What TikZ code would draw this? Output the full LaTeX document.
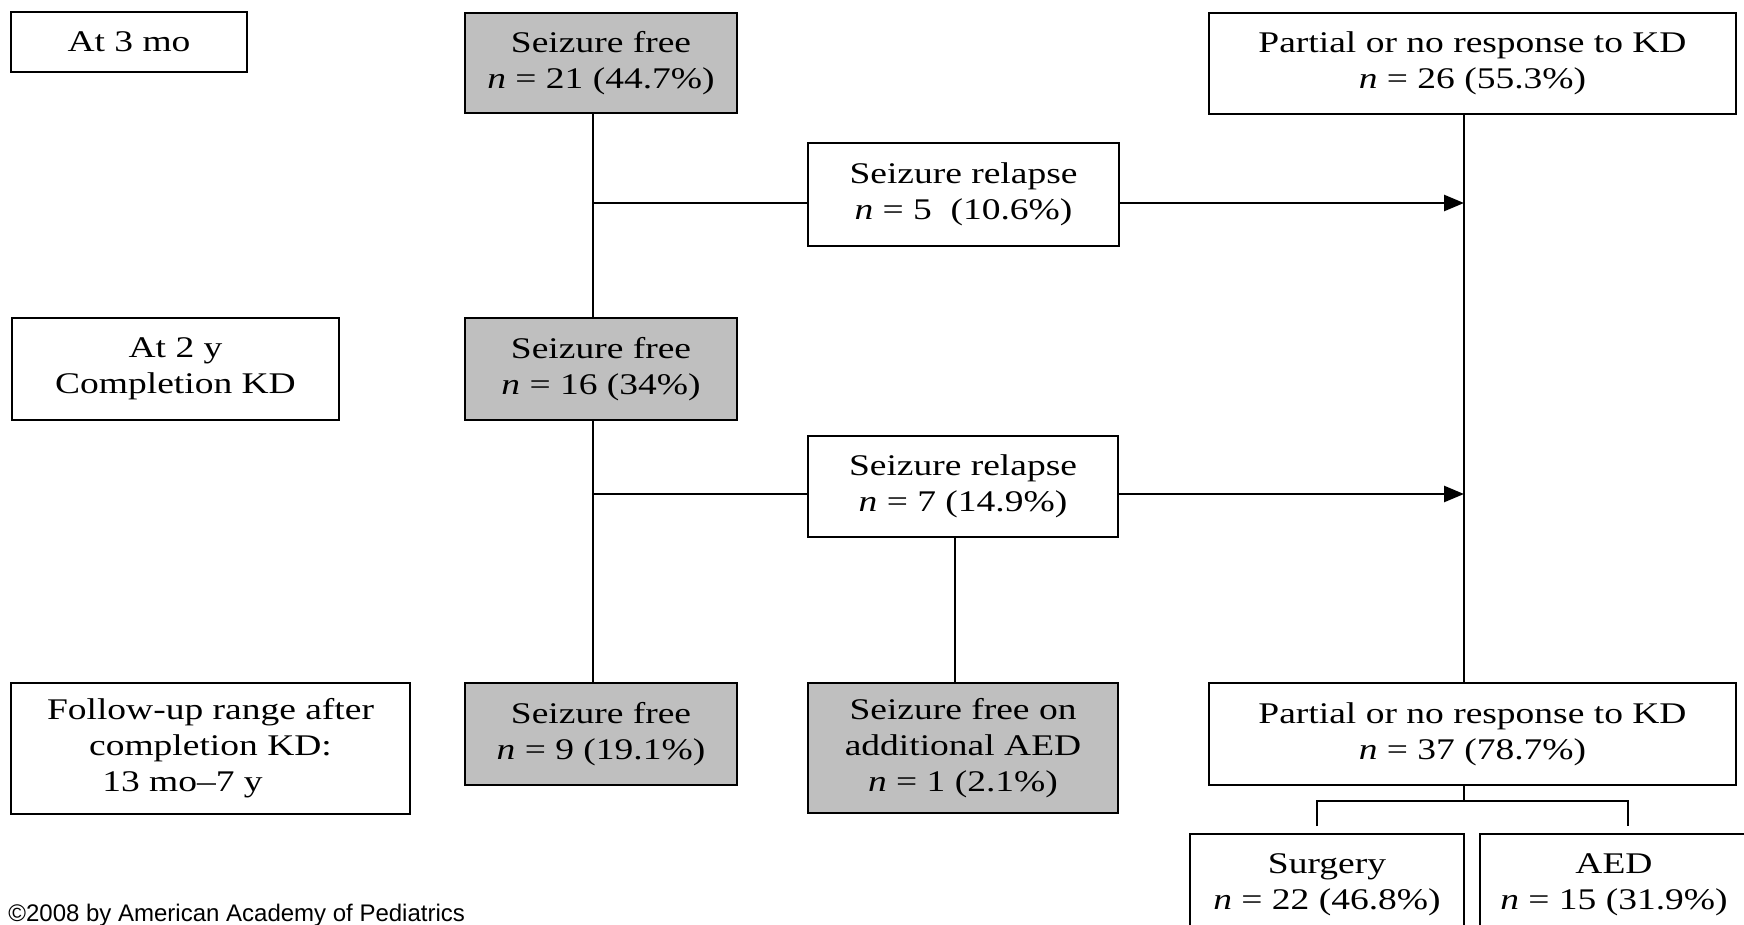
\documentclass[tikz,border=0pt]{standalone}
\usepackage{fontspec}
\setmainfont{Liberation Serif}[FakeStretch=1.25]
\newfontfamily\arialfont{Liberation Sans}
\usetikzlibrary{arrows.meta}
\newcommand\flowbox[7]{%
  \node[#6, minimum width={(#4-#2)*0.5pt}, minimum height={(#5-#3)*0.5pt}]
    (#1) at ({(#2+#4)/2},{(#3+#5)/2}) {#7};}
\begin{document}
\begin{tikzpicture}[x=0.5pt,y=-0.5pt,
  box/.style={draw=black, line width=1.4pt, rectangle, inner sep=0pt, outer sep=0pt,
    align=center, font=\fontsize{15}{18}\selectfont},
  shaded/.style={box, fill=black!25},
  link/.style={line width=1.3pt},
  arr/.style={link, -{Triangle[length=10pt,width=8pt]}}]
\useasboundingbox (0,0) rectangle (1744,925);
% row labels
\flowbox{lab1}{11}{12}{247}{72}{box}{At 3 mo}
\flowbox{lab2}{12}{318}{339}{420}{box}{At 2 y\\Completion KD}
\flowbox{lab3}{11}{683}{410}{814}{box}{Follow-up range after\\completion KD:\\13 mo–7 y\hspace*{28pt}}
% column boxes
\flowbox{sf1}{465}{13}{737}{113}{shaded}{Seizure free\\\textit{n} = 21 (44.7\%)}
\flowbox{pr1}{1209}{13}{1736}{114}{box}{Partial or no response to KD\\\textit{n} = 26 (55.3\%)}
\flowbox{rel1}{808}{143}{1119}{246}{box}{Seizure relapse\\\textit{n} = 5 \ (10.6\%)}
\flowbox{sf2}{465}{318}{737}{420}{shaded}{Seizure free\\\textit{n} = 16 (34\%)}
\flowbox{rel2}{808}{436}{1118}{537}{box}{Seizure relapse\\\textit{n} = 7 (14.9\%)}
\flowbox{sf3}{465}{683}{737}{785}{shaded}{Seizure free\\\textit{n} = 9 (19.1\%)}
\flowbox{sfa}{808}{683}{1118}{813}{shaded}{Seizure free on\\additional AED\\\textit{n} = 1 (2.1\%)}
\flowbox{pr2}{1209}{683}{1736}{785}{box}{Partial or no response to KD\\\textit{n} = 37 (78.7\%)}
\flowbox{surg}{1190}{834}{1464}{936}{box}{Surgery\\\textit{n} = 22 (46.8\%)}
\flowbox{aed}{1480}{834}{1748}{936}{box}{AED\\\textit{n} = 15 (31.9\%)}
% helper coordinates
\coordinate (lx) at (593,0);
\coordinate (rx) at (1464,0);
\coordinate (mx) at (955,0);
\coordinate (y1) at (0,203);
\coordinate (y2) at (0,494);
\coordinate (b1) at (1317,801);
\coordinate (b2) at (1628,801);
\coordinate (bj) at (1464,801);
% connectors
\draw[link] (sf1.south -| lx) -- (sf2.north -| lx);
\draw[link] (lx |- y1) -- (rel1.west |- y1);
\draw[arr] (rel1.east |- y1) -- (rx |- y1);
\draw[link] (sf2.south -| lx) -- (sf3.north -| lx);
\draw[link] (lx |- y2) -- (rel2.west |- y2);
\draw[arr] (rel2.east |- y2) -- (rx |- y2);
\draw[link] (rel2.south -| mx) -- (sfa.north -| mx);
\draw[link] (pr1.south -| rx) -- (pr2.north -| rx);
\draw[link] (pr2.south -| rx) -- (bj);
\draw[link] (b1 |- surg.north) ++(0,-8) -- (b1) -- (b2) -- ++(0,25);
% credit
\node[anchor=base west, inner sep=0pt, font=\arialfont\fontsize{12}{14}\selectfont] (credit) at (8,921)
  {\textcopyright 2008 by American Academy of Pediatrics};
\end{tikzpicture}
\end{document}
